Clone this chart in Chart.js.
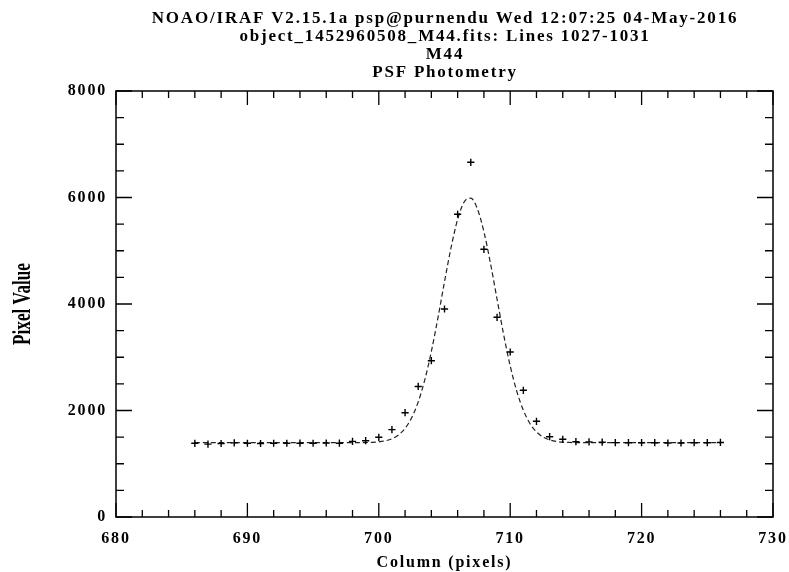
<!DOCTYPE html>
<html>
<head>
<meta charset="utf-8">
<script src="https://cdn.jsdelivr.net/npm/chart.js@4.4.0/dist/chart.umd.min.js"></script>
<style>
  html, body { margin: 0; padding: 0; background: #fff; }
  canvas { display: block; }
</style>
</head>
<body>
<canvas id="psfChart" width="789" height="572"></canvas>
<script>
// Cabecera del gráfico de IRAF
const titleLines = [
    'NOAO/IRAF V2.15.1a psp@purnendu Wed 12:07:25 04-May-2016',
    'object_1452960508_M44.fits: Lines 1027-1031',
    'M44',
    'PSF Photometry'
];
const xAxisTitle = 'Column (pixels)';
const yAxisTitle = 'Pixel Value';

// Valores medidos (cruces)
const columns = [686, 687, 688, 689, 690, 691, 692, 693, 694, 695, 696, 697, 698, 699, 700,
    701, 702, 703, 704, 705, 706, 707, 708, 709, 710, 711, 712, 713, 714, 715,
    716, 717, 718, 719, 720, 721, 722, 723, 724, 725, 726];
const pixelValues = [1384, 1368, 1380, 1392, 1385, 1380, 1385, 1385, 1386, 1385, 1390, 1386, 1421, 1433, 1497,
    1640, 1959, 2452, 2935, 3906, 5685, 6661, 5027, 3750, 3099, 2379, 1797, 1508, 1459, 1414,
    1410, 1405, 1396, 1395, 1395, 1395, 1390, 1390, 1395, 1395, 1400];

// Ajuste PSF (linea discontinua)
const fitColumns = [686, 688, 690, 692, 694, 696, 698, 699, 699.5, 700, 700.5, 701, 701.5, 702, 702.5,
    703, 703.5, 704, 704.5, 705, 705.5, 706, 706.5, 707, 707.5, 708, 708.5, 709, 709.5,
    710, 710.5, 711, 711.5, 712, 712.5, 713, 713.5, 714, 714.5, 715, 716, 718, 720, 722, 724, 726];
const fitValues = [1395, 1395, 1395, 1395, 1395, 1395, 1396, 1398, 1402, 1411, 1431, 1470, 1542, 1665, 1864,
    2161, 2576, 3109, 3740, 4417, 5061, 5590, 5917, 5987, 5789, 5356, 4762, 4089, 3428,
    2839, 2362, 2005, 1757, 1598, 1502, 1448, 1420, 1406, 1400, 1397, 1395, 1395, 1395, 1395, 1395, 1395];

// Marcas de los ejes
const xTicks = [680, 690, 700, 710, 720, 730];
const yTicks = [0, 2000, 4000, 6000, 8000];

const fontFamily = '"Liberation Serif", serif';

// Marco con marcas hacia dentro, al estilo IRAF
const irafFrame = {
    id: 'irafFrame',
    beforeDraw(chart) {
        chart.ctx.letterSpacing = '1.8px';
    },
    afterDraw(chart) {
        const { ctx, chartArea: a, scales: { x, y } } = chart;
        ctx.save();
        ctx.strokeStyle = '#000';
        ctx.lineWidth = 1.5;
        ctx.strokeRect(a.left, a.top, a.right - a.left, a.bottom - a.top);

        ctx.lineWidth = 1.3;
        ctx.beginPath();
        for (let v = x.min; v <= x.max; v += 2) {
            const px = x.getPixelForValue(v);
            const len = v % 10 === 0 ? 14 : 7;
            ctx.moveTo(px, a.bottom); ctx.lineTo(px, a.bottom - len);
            ctx.moveTo(px, a.top); ctx.lineTo(px, a.top + len);
        }
        for (let v = y.min; v <= y.max; v += 500) {
            const py = y.getPixelForValue(v);
            const len = v % 2000 === 0 ? 16 : 8;
            ctx.moveTo(a.left, py); ctx.lineTo(a.left + len, py);
            ctx.moveTo(a.right, py); ctx.lineTo(a.right - len, py);
        }
        ctx.stroke();

        ctx.fillStyle = '#000';
        ctx.textAlign = 'center';
        ctx.textBaseline = 'middle';
        ctx.font = 'bold 17px ' + fontFamily;
        titleLines.forEach((t, i) => ctx.fillText(t, 445, 19 + i * 18));

        ctx.letterSpacing = '0px';
        ctx.translate(23, (a.top + a.bottom) / 2);
        ctx.rotate(-Math.PI / 2);
        ctx.scale(0.66, 1);
        ctx.font = 'bold 26px ' + fontFamily;
        ctx.fillText(yAxisTitle, 0, 0);
        ctx.restore();
    }
};

function renderPsfChart() {
    const ctx = document.getElementById('psfChart').getContext('2d');
    const tickFont = { family: fontFamily, size: 16, weight: 'bold' };

    new Chart(ctx, {
        type: 'scatter',
        data: {
            datasets: [
                {
                    label: 'data',
                    data: columns.map((c, i) => ({ x: c, y: pixelValues[i] })),
                    pointStyle: 'cross',
                    pointRadius: 3.6,
                    borderColor: '#000',
                    borderWidth: 1.4,
                    showLine: false
                },
                {
                    label: 'fit',
                    data: fitColumns.map((c, i) => ({ x: c, y: fitValues[i] })),
                    showLine: true,
                    pointRadius: 0,
                    borderColor: '#222',
                    borderWidth: 1.2,
                    borderDash: [5, 3],
                    cubicInterpolationMode: 'monotone'
                }
            ]
        },
        options: {
            responsive: false,
            animation: false,
            layout: { padding: { top: 91, right: 16, left: 0, bottom: 0 } },
            plugins: {
                legend: { display: false },
                tooltip: { enabled: false }
            },
            scales: {
                x: {
                    type: 'linear',
                    min: 680,
                    max: 730,
                    grid: { display: false, drawTicks: false },
                    border: { display: false },
                    afterBuildTicks: s => { s.ticks = xTicks.map(v => ({ value: v })); },
                    afterFit: s => { s.height = 55; s.paddingLeft = 0; s.paddingRight = 0; },
                    ticks: { font: tickFont, color: '#000', padding: 12, maxRotation: 0, autoSkip: false,
                        callback: v => String(v) },
                    title: { display: true, text: xAxisTitle, color: '#000', font: tickFont, padding: 0 }
                },
                y: {
                    type: 'linear',
                    min: 0,
                    max: 8000,
                    grid: { display: false, drawTicks: false },
                    border: { display: false },
                    afterBuildTicks: s => { s.ticks = yTicks.map(v => ({ value: v })); },
                    afterFit: s => { s.width = 116; s.paddingTop = 0; s.paddingBottom = 0; },
                    ticks: { font: tickFont, color: '#000', padding: 9, callback: v => String(v) }
                }
            }
        },
        plugins: [irafFrame]
    });
}

document.addEventListener('DOMContentLoaded', () => {
    renderPsfChart();
});
</script>
</body>
</html>
